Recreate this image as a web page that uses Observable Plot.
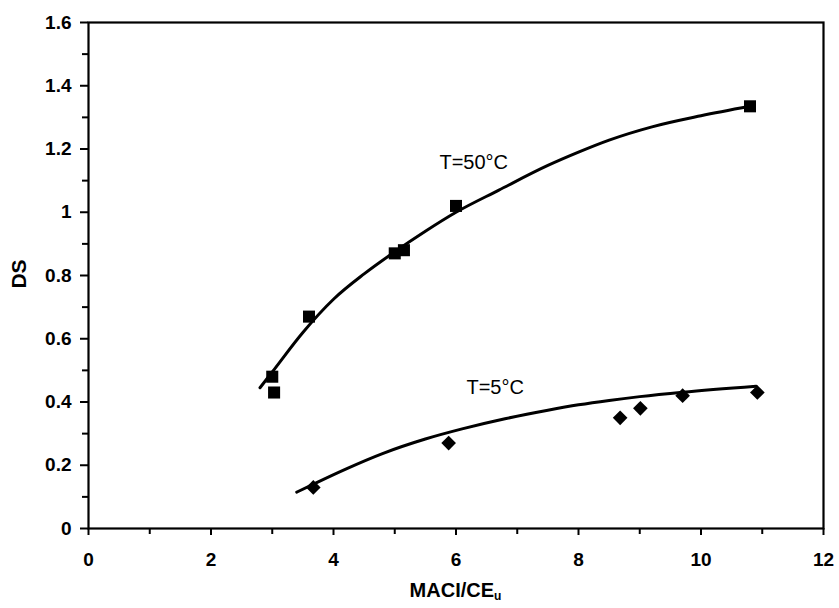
<!DOCTYPE html>
<html>
<head>
<meta charset="utf-8">
<script src="https://cdn.jsdelivr.net/npm/d3@7"></script>
<script src="https://cdn.jsdelivr.net/npm/@observablehq/plot@0.6"></script>
<style>
  html, body { margin: 0; padding: 0; background: white; }
</style>
</head>
<body>
<div id="chart"></div>
<script>
// Axis ticks
const xTicks = [0, 2, 4, 6, 8, 10, 12];
const xMinorTicks = [1, 3, 5, 7, 9, 11];
const yTicks = [0, 0.2, 0.4, 0.6, 0.8, 1.0, 1.2, 1.4, 1.6];
const yTickLabels = ["0", "0.2", "0.4", "0.6", "0.8", "1", "1.2", "1.4", "1.6"];
const yMinorTicks = [0.1, 0.3, 0.5, 0.7, 0.9, 1.1, 1.3, 1.5];

// T = 50°C measured points (squares)
const x50 = [3.0, 3.03, 3.6, 5.0, 5.15, 6.0, 10.8];
const y50 = [0.48, 0.43, 0.67, 0.87, 0.88, 1.02, 1.335];

// T = 5°C measured points (diamonds)
const x5 = [3.67, 5.88, 8.68, 9.01, 9.7, 10.92];
const y5 = [0.13, 0.27, 0.35, 0.38, 0.42, 0.43];

// Fitted curves
const fit50x = [2.8, 3.0, 3.5, 4.0, 4.5, 5.0, 5.5, 6.0, 6.7, 7.5, 8.0, 8.5, 9.2, 10.0, 10.8];
const fit50y = [0.445, 0.495, 0.62, 0.725, 0.805, 0.875, 0.94, 1.0, 1.07, 1.148, 1.19, 1.228, 1.27, 1.305, 1.335];
const fit5x = [3.4, 3.7, 4.2, 4.8, 5.5, 6.1, 6.8, 7.5, 8.0, 8.5, 9.0, 9.7, 10.9];
const fit5y = [0.115, 0.143, 0.188, 0.237, 0.283, 0.315, 0.347, 0.374, 0.391, 0.405, 0.417, 0.431, 0.45];

// Curve labels
const labelText = ["T=50°C", "T=5°C"];
const labelX = [6.29, 6.64];
const labelY = [1.157, 0.446];

const pts50 = x50.map((x, i) => ({x, y: y50[i]}));
const pts5 = x5.map((x, i) => ({x, y: y5[i]}));
const line50 = fit50x.map((x, i) => ({x, y: fit50y[i]}));
const line5 = fit5x.map((x, i) => ({x, y: fit5y[i]}));
const labels = labelText.map((t, i) => ({t, x: labelX[i], y: labelY[i]}));

const W = 839, H = 608;
const mL = 88, mR = 16, mT = 22, mB = 80;

const chart = Plot.plot({
  width: W,
  height: H,
  marginLeft: mL,
  marginRight: mR,
  marginTop: mT,
  marginBottom: mB,
  style: {fontFamily: "'Liberation Sans', Arial, sans-serif", fontSize: "19px", fontWeight: "bold", background: "white", color: "black"},
  x: {domain: [0, 12]},
  y: {domain: [0, 1.6]},
  marks: [
    Plot.axisY(yTicks, {
      tickSize: 8, tickPadding: 9, strokeWidth: 2,
      tickFormat: d => yTickLabels[yTicks.indexOf(d)],
      label: null
    }),
    Plot.axisY(yMinorTicks, {tickSize: 6, strokeWidth: 2, text: null, label: null}),
    Plot.axisX(xTicks, {
      tickSize: 7, tickPadding: 17, strokeWidth: 2,
      label: null
    }),
    Plot.axisX(xMinorTicks, {tickSize: 6, strokeWidth: 2, text: null, label: null}),
    Plot.frame({stroke: "black", strokeWidth: 2.2}),
    Plot.line(line50, {x: "x", y: "y", curve: "monotone-x", stroke: "black", strokeWidth: 3}),
    Plot.line(line5, {x: "x", y: "y", curve: "monotone-x", stroke: "black", strokeWidth: 3}),
    Plot.dot(pts50, {x: "x", y: "y", symbol: "square", r: 6.8, fill: "black", stroke: "none"}),
    Plot.dot(pts5, {x: "x", y: "y", symbol: "diamond2", r: 6.6, fill: "black", stroke: "none"}),
    Plot.text(labels, {x: "x", y: "y", text: "t", fontSize: 20, fontWeight: "normal", fill: "black"})
  ]
});

document.getElementById("chart").appendChild(chart);

const svg = d3.select(chart);
// Bold, larger tick labels (every text except the curve labels)
svg.selectAll("text")
  .filter(function() { return this.parentNode.getAttribute("aria-label") !== "text"; })
  .style("font-size", "19px")
  .style("font-weight", "bold");

// Axis titles (with subscript on the x title)
const xt = svg.append("text")
  .attr("x", (mL + (W - mR)) / 2)
  .attr("y", 597)
  .attr("text-anchor", "middle")
  .style("font-size", "20px")
  .style("font-weight", "bold")
  .attr("fill", "black");
xt.append("tspan").text("MACI/CE");
xt.append("tspan").style("font-size", "12px").attr("dy", 3).text("u");

svg.append("text")
  .attr("transform", "translate(26,274) rotate(-90)")
  .attr("text-anchor", "middle")
  .style("font-size", "21px")
  .style("font-weight", "bold")
  .attr("fill", "black")
  .text("DS");
</script>
</body>
</html>
